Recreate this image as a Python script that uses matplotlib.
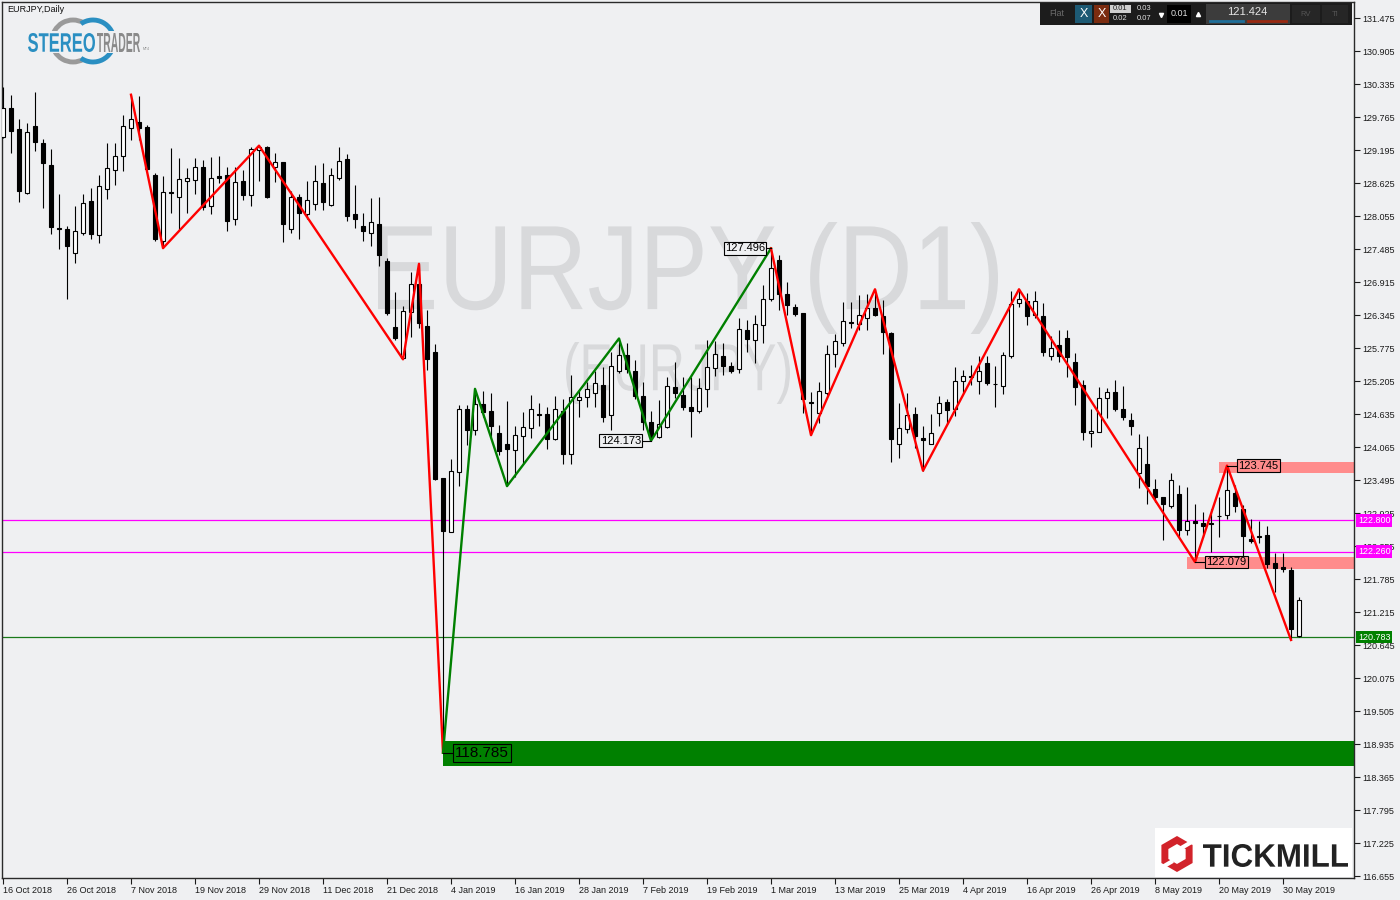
import matplotlib
matplotlib.use('Agg')
import matplotlib.pyplot as plt
import numpy as np
import matplotlib.transforms as mtransforms
from matplotlib.patches import Rectangle, PathPatch, Arc, RegularPolygon
from matplotlib.textpath import TextPath
from matplotlib.font_manager import FontProperties

plt.rcParams['font.family'] = ['Liberation Sans', 'DejaVu Sans']

# ---------------- data ----------------
opens = [129.42, 129.92, 129.55, 128.46, 129.61, 129.31, 128.93, 127.84, 127.83, 127.41,
         127.77, 128.32, 127.72, 128.53, 128.85, 129.09, 129.57, 129.68, 129.59, 128.76,
         127.63, 128.47, 128.39, 128.66, 128.67, 128.90, 128.22, 128.75, 128.76, 128.01,
         128.66, 128.41, 129.20, 129.24, 128.91, 128.98, 127.83, 128.38, 128.09, 128.26,
         128.62, 128.24, 128.72, 129.04, 128.09, 127.88, 127.76, 127.91, 127.28, 126.13,
         125.60, 126.40, 126.88, 126.16, 125.70, 123.53, 122.60, 123.63, 124.72, 124.36,
         124.80, 124.68, 124.31, 124.12, 124.01, 124.26, 124.40, 124.63, 124.64, 124.21,
         124.69, 123.94, 124.87, 124.93, 124.99, 125.14, 124.61, 125.38, 125.65, 125.38,
         124.95, 124.50, 124.24, 124.41, 125.11, 124.97, 124.75, 124.69, 125.06, 125.43,
         125.64, 125.47, 125.41, 126.09, 125.91, 126.17, 126.63, 127.30, 126.70, 126.48,
         126.38, 124.85, 124.66, 124.99, 125.67, 125.87, 126.22, 126.19, 126.29, 126.46,
         126.33, 126.04, 124.12, 124.37, 124.63, 124.22, 124.12, 124.65, 124.84, 124.72,
         125.21, 125.29, 125.21, 125.52, 125.16, 125.12, 125.64, 126.55, 126.59, 126.34,
         126.32, 125.64, 125.83, 125.95, 125.54, 125.14, 124.30, 124.33, 124.91, 125.01,
         124.72, 124.54, 123.62, 123.78, 123.34, 123.21, 123.05, 123.25, 122.63, 122.78,
         122.75, 122.74, 122.87, 122.90, 123.28, 122.99, 122.48, 122.53, 122.55, 122.06,
         121.99, 121.94, 120.80]
highs = [130.28, 130.15, 129.73, 129.67, 130.19, 129.38, 129.21, 128.44, 127.88, 128.23,
         128.43, 128.54, 128.76, 129.32, 129.32, 129.80, 130.15, 130.13, 129.63, 128.79,
         128.75, 129.23, 129.05, 128.88, 129.05, 129.02, 129.07, 129.09, 128.91, 128.91,
         128.85, 129.25, 129.27, 129.26, 129.14, 128.99, 128.48, 128.44, 128.66, 128.93,
         128.97, 128.88, 129.25, 129.12, 128.59, 128.10, 128.36, 128.38, 127.33, 126.74,
         126.50, 127.08, 127.23, 126.43, 125.84, 123.53, 123.85, 124.79, 124.79, 125.07,
         125.03, 124.99, 124.45, 124.86, 124.42, 124.67, 124.96, 124.82, 124.76, 124.94,
         124.89, 125.31, 125.05, 125.19, 125.37, 125.45, 125.71, 125.94, 125.86, 125.56,
         125.19, 124.68, 124.88, 125.28, 125.54, 125.28, 125.28, 125.25, 125.91, 125.90,
         125.86, 125.54, 126.29, 126.26, 126.35, 126.86, 127.496, 127.38, 126.92, 126.54,
         126.38, 125.02, 125.19, 125.83, 126.02, 126.57, 126.57, 126.69, 126.70, 126.79,
         126.61, 126.05, 124.82, 125.00, 124.76, 124.43, 124.63, 124.94, 124.89, 125.44,
         125.40, 125.49, 125.63, 125.63, 125.47, 125.71, 126.76, 126.79, 126.72, 126.76,
         126.55, 125.99, 126.09, 126.09, 125.69, 125.22, 124.72, 125.11, 125.08, 125.22,
         125.12, 124.65, 124.29, 124.26, 123.51, 123.21, 123.61, 123.41, 123.38, 123.09,
         122.95, 122.99, 123.21, 123.745, 123.41, 123.06, 122.82, 122.79, 122.71, 122.23,
         122.24, 122.00, 121.48]
lows = [129.40, 129.15, 128.30, 128.44, 129.18, 128.20, 127.75, 127.48, 126.62, 127.24,
        127.72, 127.65, 127.59, 128.35, 128.59, 128.84, 129.37, 129.37, 128.85, 127.63,
        127.50, 128.11, 127.81, 128.11, 128.44, 128.16, 128.09, 128.63, 127.80, 127.90,
        128.33, 128.23, 128.66, 128.37, 128.65, 127.60, 127.77, 127.66, 128.01, 128.16,
        128.16, 128.23, 128.67, 127.97, 127.85, 127.63, 127.53, 127.19, 126.35, 125.91,
        125.58, 125.97, 126.12, 125.40, 123.50, 118.785, 122.59, 123.40, 124.10, 124.27,
        124.59, 124.24, 123.93, 123.39, 123.55, 123.78, 124.22, 124.42, 124.03, 124.18,
        123.78, 123.78, 124.59, 124.76, 124.76, 124.49, 124.36, 125.35, 125.34, 124.89,
        124.36, 124.173, 124.22, 124.39, 124.91, 124.71, 124.23, 124.66, 124.76, 125.29,
        125.31, 125.35, 125.35, 125.71, 125.52, 125.87, 126.59, 126.43, 126.35, 126.33,
        124.66, 124.27, 124.48, 124.96, 125.44, 125.81, 126.12, 126.09, 126.08, 126.33,
        125.68, 123.81, 123.87, 124.31, 124.04, 123.656, 124.11, 124.43, 124.46, 124.60,
        125.00, 125.14, 124.98, 125.13, 124.76, 124.98, 125.60, 126.48, 126.17, 126.30,
        125.64, 125.57, 125.54, 125.28, 124.79, 124.19, 124.07, 124.32, 124.56, 124.69,
        124.54, 124.27, 123.35, 123.09, 123.12, 122.46, 123.01, 122.52, 122.55, 122.079,
        122.52, 122.26, 122.52, 122.83, 122.94, 122.03, 122.40, 122.41, 121.97, 121.57,
        121.90, 120.733, 120.79]
closes = [129.92, 129.53, 128.48, 129.50, 129.34, 128.97, 127.86, 127.83, 127.53, 127.79,
          128.28, 127.75, 128.57, 128.88, 129.10, 129.61, 129.73, 129.58, 128.87, 127.66,
          128.47, 128.46, 128.69, 128.71, 128.90, 128.21, 128.71, 128.72, 127.97, 128.64,
          128.41, 129.21, 129.25, 128.39, 128.99, 127.91, 128.39, 128.11, 128.33, 128.66,
          128.29, 128.76, 129.00, 128.06, 128.01, 127.80, 127.95, 127.38, 126.38, 125.94,
          126.41, 126.88, 126.21, 125.58, 123.51, 122.62, 123.65, 124.72, 124.36, 124.80,
          124.67, 124.43, 124.00, 124.03, 124.27, 124.41, 124.72, 124.62, 124.21, 124.73,
          123.94, 124.93, 124.93, 125.06, 125.17, 124.59, 125.47, 125.65, 125.42, 124.94,
          124.50, 124.24, 124.46, 125.12, 124.99, 124.76, 124.68, 125.08, 125.45, 125.67,
          125.47, 125.38, 126.11, 125.93, 126.19, 126.63, 127.16, 126.70, 126.52, 126.36,
          124.89, 124.82, 125.04, 125.67, 125.90, 126.25, 126.21, 126.34, 126.46, 126.35,
          126.05, 124.20, 124.39, 124.61, 124.26, 124.18, 124.30, 124.83, 124.71, 125.21,
          125.30, 125.28, 125.37, 125.17, 125.15, 125.65, 126.53, 126.63, 126.33, 126.59,
          125.71, 125.78, 125.64, 125.62, 125.11, 124.33, 124.34, 124.92, 125.01, 124.73,
          124.58, 124.43, 124.04, 123.39, 123.21, 123.08, 123.50, 122.63, 122.79, 122.75,
          122.71, 122.76, 122.88, 123.32, 123.04, 122.53, 122.45, 122.52, 122.04, 121.97,
          121.96, 120.92, 121.42]

date_labels = ["16 Oct 2018", "26 Oct 2018", "7 Nov 2018", "19 Nov 2018", "29 Nov 2018",
               "11 Dec 2018", "21 Dec 2018", "4 Jan 2019", "16 Jan 2019", "28 Jan 2019",
               "7 Feb 2019", "19 Feb 2019", "1 Mar 2019", "13 Mar 2019", "25 Mar 2019",
               "4 Apr 2019", "16 Apr 2019", "26 Apr 2019", "8 May 2019", "20 May 2019",
               "30 May 2019"]
label_step = 8

price_ticks = [116.655, 117.225, 117.795, 118.365, 118.935, 119.505, 120.075, 120.645,
               121.215, 121.785, 122.355, 122.925, 123.495, 124.065, 124.635, 125.205,
               125.775, 126.345, 126.915, 127.485, 128.055, 128.625, 129.195, 129.765,
               130.335, 130.905, 131.475]

# zigzag pivots (bar index, price)
zz_red1_idx = [16, 20, 32, 50, 52, 55]
zz_red1_val = [130.15, 127.50, 129.27, 125.58, 127.23, 118.785]
zz_green_idx = [55, 59, 63, 77, 81, 96]
zz_green_val = [118.785, 125.07, 123.39, 125.94, 124.173, 127.496]
zz_red2_idx = [96, 101, 109, 115, 127, 149, 153, 161]
zz_red2_val = [127.496, 124.27, 126.79, 123.656, 126.79, 122.079, 123.745, 120.733]

levels_magenta = [122.800, 122.260]
level_bid = 120.783
zone_green = (55, 118.56, 118.99)      # start bar, low, high
zone_top = (152, 123.62, 123.81)
zone_bot = (148, 121.96, 122.17)
toolbar_price = "121.424"

# ---------------- figure ----------------
BG = '#eff0f2'
W, H = 1400, 900
fig = plt.figure(figsize=(14, 9), dpi=100, facecolor=BG)


def fit_text(a, s, x0, y0, x1, y1, color, weight='bold', family='Liberation Sans', zorder=2):
    tp = TextPath((0, 0), s, size=100, prop=FontProperties(family=family, weight=weight))
    ext = tp.get_extents()
    sx = (x1 - x0) / ext.width
    sy = (y1 - y0) / ext.height
    tr = mtransforms.Affine2D().translate(-ext.x0, -ext.y0).scale(sx, -sy).translate(x0, y1)
    a.add_patch(PathPatch(tr.transform_path(tp), facecolor=color, edgecolor='none', zorder=zorder))


# background axes (watermark)
bg = fig.add_axes([0, 0, 1, 1], zorder=0)
bg.set_xlim(0, W); bg.set_ylim(H, 0); bg.axis('off')
fit_text(bg, 'EURJPY (D1)', 378, 222, 998, 334, '#d8d9db', weight='normal')
fit_text(bg, '(EURJPY)', 566, 342, 790, 404, '#d8d9db', weight='normal')

# main chart axes
ax = fig.add_axes([2 / W, 1 - 878 / H, 1352 / W, 876 / H], zorder=1)
ax.patch.set_alpha(0)
ax.set_xlim(-0.125, 168.875)
ax.set_ylim(116.622, 131.7515)

n = len(opens)
x = np.arange(n)
ax.vlines(x, lows, highs, color='black', lw=0.8, zorder=3)
for i in range(n):
    o, c = opens[i], closes[i]
    bottom = min(o, c)
    h = max(abs(c - o), 0.012)
    face = 'white' if c >= o else 'black'
    ax.add_patch(Rectangle((i - 0.3, bottom), 0.6, h, facecolor=face, edgecolor='black',
                           lw=0.8, zorder=4))

# zones
SAL = '#ff8c8c'
right_edge = 170
ax.add_patch(Rectangle((zone_green[0], zone_green[1]), right_edge - zone_green[0],
                       zone_green[2] - zone_green[1], facecolor='#008000', edgecolor='none', zorder=2))
ax.add_patch(Rectangle((zone_top[0], zone_top[1]), right_edge - zone_top[0],
                       zone_top[2] - zone_top[1], facecolor=SAL, edgecolor='none', zorder=2))
ax.add_patch(Rectangle((zone_bot[0], zone_bot[1]), right_edge - zone_bot[0],
                       zone_bot[2] - zone_bot[1], facecolor=SAL, edgecolor='none', zorder=2))

# horizontal levels
for lv in levels_magenta:
    ax.axhline(lv, color='#ff00ff', lw=0.9, zorder=2.5)
ax.axhline(level_bid, color='#1a7a1a', lw=0.9, zorder=2.5)

# zigzags
ax.plot(zz_red1_idx, zz_red1_val, color='#ff0000', lw=1.7, zorder=5)
ax.plot(zz_green_idx, zz_green_val, color='#008000', lw=1.7, zorder=5)
ax.plot(zz_red2_idx, zz_red2_val, color='#ff0000', lw=1.7, zorder=5)


def pivot_label(idx, val, side, offset, fc, fs=8):
    xt = idx + offset if side == 'right' else idx - offset
    ax.plot([idx, xt], [val, val], color='black', lw=0.8, zorder=6)
    ax.text(xt, val, f'{val:.3f}', ha='left' if side == 'right' else 'right', va='center',
            fontsize=fs, color='black', zorder=7,
            bbox=dict(boxstyle='square,pad=0.12', fc=fc, ec='black', lw=0.8))


pivot_label(96, 127.496, 'left', 0.75, BG)
pivot_label(81, 124.173, 'left', 1.25, BG)
pivot_label(153, 123.745, 'right', 1.4, SAL)
pivot_label(149, 122.079, 'right', 1.4, SAL)
pivot_label(55, 118.785, 'right', 1.5, '#008000', fs=11)

# axes styling
for sp in ax.spines.values():
    sp.set_color('#2a2a2a'); sp.set_linewidth(1.0)
ax.yaxis.tick_right()
ax.set_yticks(price_ticks)
ax.set_yticklabels([f'{t:.3f}' for t in price_ticks])
ax.tick_params(axis='y', length=4, width=0.8, pad=2, labelsize=6.5, colors='#1a1a1a')
xt = [i * label_step for i in range(len(date_labels))]
ax.set_xticks(xt)
ax.set_xticklabels(date_labels, ha='left')
ax.tick_params(axis='x', length=4, width=0.8, pad=2, labelsize=6.5, colors='#1a1a1a')

# axis price tags
blend = mtransforms.blended_transform_factory(ax.transAxes, ax.transData)
for lv in levels_magenta:
    ax.text(1.003, lv, f'{lv:.3f}', transform=blend, ha='left', va='center', fontsize=6.5,
            color='white', clip_on=False, zorder=10,
            bbox=dict(boxstyle='square,pad=0.2', fc='#ff00ff', ec='none'))
ax.text(1.003, level_bid, f'{level_bid:.3f}', transform=blend, ha='left', va='center',
        fontsize=6.5, color='white', clip_on=False, zorder=10,
        bbox=dict(boxstyle='square,pad=0.2', fc='#008000', ec='none'))

# ---------------- overlay decorations ----------------
ov = fig.add_axes([0, 0, 1, 1], zorder=3)
ov.set_xlim(0, W); ov.set_ylim(H, 0); ov.axis('off'); ov.patch.set_alpha(0)

ov.text(7, 10, 'EURJPY,Daily', fontsize=6.5, color='#111111', va='center', ha='left')

# StereoTrader logo
ov.add_patch(Arc((73, 41), 42, 42, theta1=60, theta2=300, color='#9a9a9a', lw=3.5))
ov.add_patch(Arc((93, 41), 42, 42, theta1=-125, theta2=125, color='#2a8fc2', lw=3.5))
ov.add_patch(Rectangle((26, 31), 124, 22, facecolor=BG, edgecolor='none', zorder=1.5))
fit_text(ov, 'STEREO', 28, 33, 95, 52, '#2a8fc2', zorder=3)
fit_text(ov, 'TRADER', 97, 33, 140, 52, '#8a8a8a', zorder=3)
ov.text(143, 49, 'MT4', fontsize=2.5, color='#8a8a8a', va='center')

# toolbar
ov.add_patch(Rectangle((1040, 3), 312, 22, facecolor='#1c1c1c', edgecolor='none'))
ov.text(1057, 14, 'Flat', fontsize=6.5, color='#6a6a6a', ha='center', va='center')
ov.add_patch(Rectangle((1075, 5), 17, 18, facecolor='#1d5a74', edgecolor='none'))
ov.text(1083.5, 14, 'X', fontsize=9, color='white', ha='center', va='center')
ov.add_patch(Rectangle((1094, 5), 15, 18, facecolor='#7b2c10', edgecolor='none'))
ov.text(1101.5, 14, 'X', fontsize=9, color='white', ha='center', va='center')
ov.add_patch(Rectangle((1110, 5), 21, 8, facecolor='#cfcfcf', edgecolor='none'))
ov.text(1120.5, 9, '0.01', fontsize=5.5, color='#222222', ha='center', va='center')
ov.text(1120.5, 19, '0.02', fontsize=5.5, color='#e0e0e0', ha='center', va='center')
ov.text(1144, 9, '0.03', fontsize=5.5, color='#e0e0e0', ha='center', va='center')
ov.text(1144, 19, '0.07', fontsize=5.5, color='#e0e0e0', ha='center', va='center')
ov.plot(1161, 15, marker='v', color='white', ms=3)
ov.add_patch(Rectangle((1167, 5), 24, 18, facecolor='#000000', edgecolor='none'))
ov.text(1179, 14, '0.01', fontsize=6.5, color='#e0e0e0', ha='center', va='center')
ov.plot(1198, 14, marker='^', color='white', ms=3)
ov.add_patch(Rectangle((1206, 4), 84, 20, facecolor='#3c3c3c', edgecolor='none'))
ov.text(1247, 12, toolbar_price, fontsize=8, color='#e6e6e6', ha='center', va='center')
ov.plot([1210, 1243], [21, 21], color='#1f6f9a', lw=2)
ov.plot([1248, 1286], [21, 21], color='#9a2a12', lw=2)
ov.add_patch(Rectangle((1292, 5), 28, 18, facecolor='#262626', edgecolor='none'))
ov.text(1306, 14, 'RV', fontsize=5.5, color='#555555', ha='center', va='center')
ov.add_patch(Rectangle((1322, 5), 26, 18, facecolor='#262626', edgecolor='none'))
ov.text(1335, 14, 'TI', fontsize=5.5, color='#555555', ha='center', va='center')

# Tickmill logo
ov.add_patch(Rectangle((1155, 828), 197, 49, facecolor='white', edgecolor='none'))
ov.add_patch(RegularPolygon((1177, 854), numVertices=6, radius=14, facecolor='none',
                            edgecolor='#d2232a', lw=5, zorder=3))
ov.plot([1183, 1195], [847, 840], color='white', lw=3, zorder=4)
ov.plot([1159, 1171], [869, 862], color='white', lw=3, zorder=4)
fit_text(ov, 'TICKMILL', 1203, 844, 1348, 867, '#222222', zorder=3)

fig.savefig('out.png', dpi=100, facecolor=BG)
